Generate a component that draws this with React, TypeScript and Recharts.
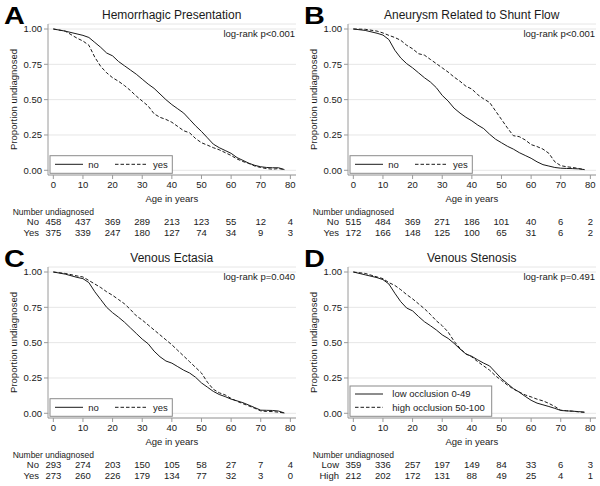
import React from 'react';
import { LineChart, Line, XAxis, YAxis, CartesianGrid } from 'recharts';

// ---------- data ----------
const ages = [0, 4, 8, 10, 12, 14, 16, 18, 20, 22, 24, 26, 28, 30, 32, 34, 36, 38, 40, 42, 44, 46, 48, 50, 52, 54, 56, 58, 60, 62, 64, 66, 68, 70, 72, 74, 76, 78];

const hemoNo = [1.0, 0.985, 0.965, 0.955, 0.94, 0.905, 0.87, 0.83, 0.81, 0.77, 0.74, 0.71, 0.68, 0.645, 0.61, 0.58, 0.54, 0.5, 0.465, 0.435, 0.405, 0.36, 0.315, 0.275, 0.23, 0.185, 0.16, 0.14, 0.12, 0.09, 0.07, 0.05, 0.035, 0.025, 0.02, 0.018, 0.018, 0.005];
const hemoYes = [1.0, 0.985, 0.935, 0.915, 0.885, 0.8, 0.735, 0.69, 0.655, 0.63, 0.6, 0.565, 0.525, 0.49, 0.455, 0.4, 0.375, 0.36, 0.34, 0.31, 0.28, 0.265, 0.225, 0.195, 0.178, 0.16, 0.145, 0.125, 0.105, 0.08, 0.062, 0.048, 0.03, 0.02, 0.012, 0.008, 0.012, 0.005];

const shuntNo = [1.0, 0.99, 0.97, 0.957, 0.925, 0.85, 0.795, 0.755, 0.725, 0.69, 0.655, 0.625, 0.585, 0.53, 0.49, 0.44, 0.405, 0.375, 0.35, 0.32, 0.295, 0.255, 0.22, 0.195, 0.17, 0.15, 0.125, 0.105, 0.085, 0.06, 0.04, 0.03, 0.02, 0.015, 0.013, 0.012, 0.01, 0.005];
const shuntYes = [1.0, 0.998, 0.985, 0.972, 0.955, 0.94, 0.92, 0.885, 0.86, 0.825, 0.815, 0.785, 0.755, 0.725, 0.695, 0.66, 0.63, 0.595, 0.575, 0.535, 0.505, 0.48, 0.42, 0.36, 0.3, 0.245, 0.238, 0.215, 0.182, 0.168, 0.15, 0.12, 0.06, 0.033, 0.025, 0.02, 0.013, 0.005];

const ectasiaNo = [1.0, 0.985, 0.962, 0.953, 0.925, 0.86, 0.805, 0.75, 0.712, 0.68, 0.645, 0.605, 0.565, 0.525, 0.492, 0.44, 0.4, 0.37, 0.355, 0.33, 0.305, 0.285, 0.255, 0.215, 0.185, 0.155, 0.133, 0.118, 0.1, 0.088, 0.075, 0.058, 0.04, 0.022, 0.021, 0.02, 0.016, 0.002];
const ectasiaYes = [1.0, 0.99, 0.972, 0.965, 0.94, 0.915, 0.89, 0.86, 0.835, 0.805, 0.775, 0.735, 0.69, 0.66, 0.625, 0.59, 0.555, 0.52, 0.485, 0.445, 0.405, 0.365, 0.325, 0.285, 0.22, 0.17, 0.145, 0.13, 0.105, 0.085, 0.068, 0.052, 0.035, 0.017, 0.013, 0.012, 0.008, 0.002];

const stenosisLow = [1.0, 0.98, 0.96, 0.946, 0.915, 0.85, 0.79, 0.745, 0.725, 0.685, 0.648, 0.62, 0.59, 0.555, 0.53, 0.495, 0.455, 0.42, 0.403, 0.378, 0.355, 0.335, 0.29, 0.245, 0.21, 0.175, 0.15, 0.12, 0.092, 0.072, 0.06, 0.048, 0.035, 0.02, 0.017, 0.015, 0.012, 0.008];
const stenosisHigh = [1.0, 0.99, 0.965, 0.953, 0.925, 0.905, 0.875, 0.84, 0.81, 0.775, 0.74, 0.7, 0.655, 0.62, 0.575, 0.51, 0.46, 0.42, 0.399, 0.365, 0.335, 0.305, 0.265, 0.233, 0.2, 0.172, 0.15, 0.13, 0.116, 0.1, 0.088, 0.07, 0.048, 0.022, 0.018, 0.015, 0.01, 0.007];

const xTicks = [0, 10, 20, 30, 40, 50, 60, 70, 80];
const yTicks = [0, 0.25, 0.5, 0.75, 1];

const riskHemoNo = [458, 437, 369, 289, 213, 123, 55, 12, 4];
const riskHemoYes = [375, 339, 247, 180, 127, 74, 34, 9, 3];
const riskShuntNo = [515, 484, 369, 271, 186, 101, 40, 6, 2];
const riskShuntYes = [172, 166, 148, 125, 100, 65, 31, 6, 2];
const riskEctasiaNo = [293, 274, 203, 150, 105, 58, 27, 7, 4];
const riskEctasiaYes = [273, 260, 226, 179, 134, 77, 32, 3, 0];
const riskStenosisLow = [359, 336, 257, 197, 149, 84, 33, 6, 3];
const riskStenosisHigh = [212, 202, 172, 131, 88, 49, 25, 4, 1];

// ---------- styles ----------
const FONT = "'Liberation Sans', Arial, Helvetica, sans-serif";
const TXT = '#1a1a1a';
const AXIS = '#9a9a9a';
const GRID = '#e6e6e6';
const LINE = '#1a1a1a';
const DASH = '3.5 2';

type PanelProps = {
  letter: string;
  title: string;
  pText: string;
  seriesA: number[];
  seriesB: number[];
  legendA: string;
  legendB: string;
  rowA: string;
  rowB: string;
  riskA: number[];
  riskB: number[];
  left: number;
  top: number;
  stacked?: boolean;
};

const makeTick = (rowA: string, rowB: string, riskA: number[], riskB: number[]) => (props: any) => {
  const { x, y, payload } = props;
  const v = payload.value;
  const i = xTicks.indexOf(v);
  return (
    <g fontFamily={FONT} fill={TXT}>
      <text x={x} y={y} dy="0.71em" textAnchor="middle" fontSize={9.5} fill={TXT}>{v}</text>
      {v === 40 && (
        <text x={x} y={202} textAnchor="middle" fontSize={9.5} fill={TXT}>Age in years</text>
      )}
      <text x={x} y={225.4} textAnchor="middle" fontSize={9.5} fill={TXT}>{riskA[i]}</text>
      <text x={x} y={235.7} textAnchor="middle" fontSize={9.5} fill={TXT}>{riskB[i]}</text>
      {i === 0 && (
        <>
          <text x={12.7} y={214.6} fontSize={8.5} fill={TXT}>Number undiagnosed</text>
          <text x={39} y={225.4} textAnchor="end" fontSize={9.5} fill={TXT}>{rowA}</text>
          <text x={39} y={235.7} textAnchor="end" fontSize={9.5} fill={TXT}>{rowB}</text>
        </>
      )}
    </g>
  );
};

function Panel(p: PanelProps) {
  const data = ages.map((a, i) => ({ age: a, a: p.seriesA[i], b: p.seriesB[i] }));
  const boxW = p.stacked ? 141.7 : 122.3;
  const boxY = p.stacked ? 143 : 155.7;
  const boxH = p.stacked ? 30.3 : 17.6;
  return (
    <div style={{ position: 'absolute', left: p.left, top: p.top, width: 300, height: 243 }}>
      <LineChart width={300} height={243} data={data} margin={{ top: 24, right: 4, bottom: 38, left: 8 }}>
        <CartesianGrid vertical={false} stroke={GRID} strokeWidth={1} />
        <XAxis
          dataKey="age"
          type="number"
          domain={[-1.8, 81.9]}
          allowDataOverflow
          ticks={xTicks}
          interval={0}
          height={30}
          tickSize={4}
          tickMargin={2}
          axisLine={{ stroke: AXIS }}
          tickLine={{ stroke: AXIS }}
          tick={makeTick(p.rowA, p.rowB, p.riskA, p.riskB)}
        />
        <YAxis
          type="number"
          domain={[-0.0333, 1.0354]}
          allowDataOverflow
          ticks={yTicks}
          interval={0}
          width={40}
          tickSize={4}
          tickMargin={2}
          axisLine={{ stroke: AXIS }}
          tickLine={{ stroke: AXIS }}
          tickFormatter={(v: number) => v.toFixed(2)}
          tick={{ fontSize: 9.5, fill: TXT, fontFamily: FONT }}
        />
        <Line dataKey="a" type="linear" stroke={LINE} strokeWidth={1} dot={false} isAnimationActive={false} />
        <Line dataKey="b" type="linear" stroke={LINE} strokeWidth={1} strokeDasharray={DASH} dot={false} isAnimationActive={false} />
      </LineChart>
      <svg width={300} height={243} style={{ position: 'absolute', left: 0, top: 0, pointerEvents: 'none' }} fontFamily={FONT}>
        <text transform="translate(4,24) scale(1.2,1)" x={0} y={0} fontSize={24} fontWeight="bold" fill="#000">{p.letter}</text>
        <text x={171.7} y={18.6} textAnchor="middle" fontSize={12} fill={TXT}>{p.title}</text>
        <text x={295} y={36.7} textAnchor="end" fontSize={9.5} fill={TXT}>{p.pText}</text>
        <text transform="translate(16.5,99.5) rotate(-90)" x={0} y={0} textAnchor="middle" fontSize={9.5} fill={TXT}>Proportion undiagnosed</text>
        <rect x={50} y={boxY} width={boxW} height={boxH} fill="#fff" stroke="#8a8a8a" strokeWidth={1} />
        {p.stacked ? (
          <>
            <line x1={55} x2={83} y1={151} y2={151} stroke={LINE} strokeWidth={1} />
            <text x={92.3} y={154.4} fontSize={9.5} fill={TXT}>{p.legendA}</text>
            <line x1={55} x2={83} y1={164.3} y2={164.3} stroke={LINE} strokeWidth={1} strokeDasharray={DASH} />
            <text x={92.3} y={167.7} fontSize={9.5} fill={TXT}>{p.legendB}</text>
          </>
        ) : (
          <>
            <line x1={55} x2={83} y1={164.3} y2={164.3} stroke={LINE} strokeWidth={1} />
            <text x={88.3} y={167.7} fontSize={9.5} fill={TXT}>{p.legendA}</text>
            <line x1={115} x2={148} y1={164.3} y2={164.3} stroke={LINE} strokeWidth={1} strokeDasharray={DASH} />
            <text x={153} y={167.7} fontSize={9.5} fill={TXT}>{p.legendB}</text>
          </>
        )}
      </svg>
    </div>
  );
}

export default function App() {
  return (
    <div style={{ position: 'absolute', left: 0, top: 0, width: 600, height: 486, background: '#fff', fontFamily: FONT }}>
      <Panel letter="A" title="Hemorrhagic Presentation" pText="log-rank p<0.001" seriesA={hemoNo} seriesB={hemoYes}
        legendA="no" legendB="yes" rowA="No" rowB="Yes" riskA={riskHemoNo} riskB={riskHemoYes} left={0} top={0} />
      <Panel letter="B" title="Aneurysm Related to Shunt Flow" pText="log-rank p<0.001" seriesA={shuntNo} seriesB={shuntYes}
        legendA="no" legendB="yes" rowA="No" rowB="Yes" riskA={riskShuntNo} riskB={riskShuntYes} left={300} top={0} />
      <Panel letter="C" title="Venous Ectasia" pText="log-rank p=0.040" seriesA={ectasiaNo} seriesB={ectasiaYes}
        legendA="no" legendB="yes" rowA="No" rowB="Yes" riskA={riskEctasiaNo} riskB={riskEctasiaYes} left={0} top={243} />
      <Panel letter="D" title="Venous Stenosis" pText="log-rank p=0.491" seriesA={stenosisLow} seriesB={stenosisHigh}
        legendA="low occlusion 0-49" legendB="high occlusion 50-100" rowA="Low" rowB="High" riskA={riskStenosisLow} riskB={riskStenosisHigh} left={300} top={243} stacked />
    </div>
  );
}
